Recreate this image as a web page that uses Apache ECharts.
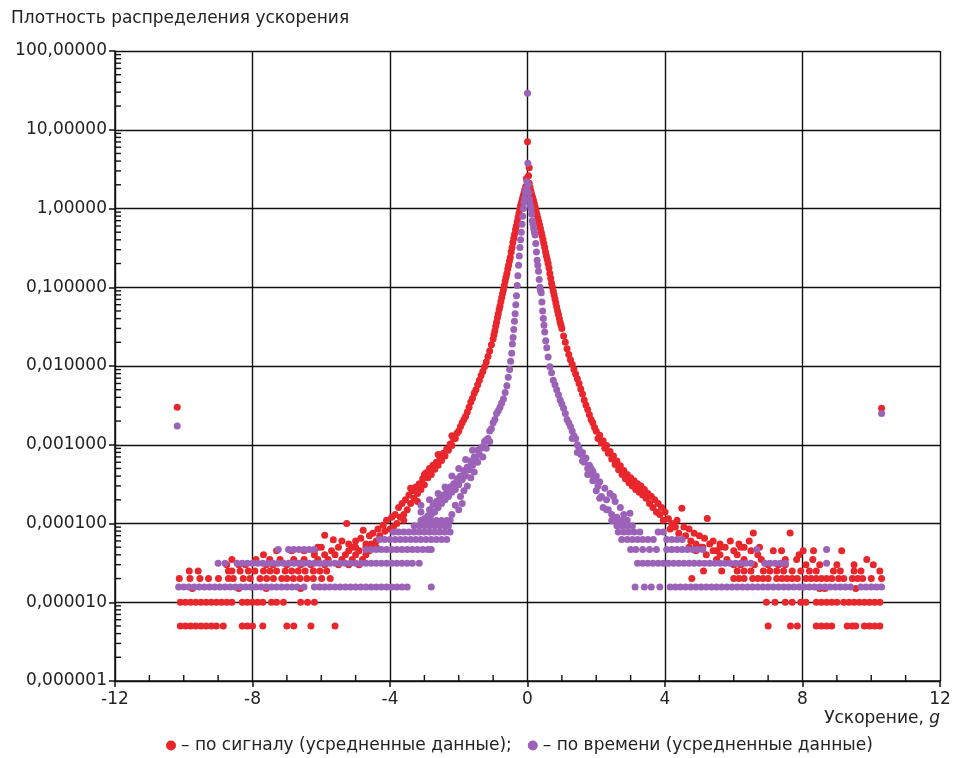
<!DOCTYPE html>
<html><head><meta charset="utf-8">
<script src="https://cdn.jsdelivr.net/npm/echarts@6/dist/echarts.min.js"></script>
<style>html,body{margin:0;padding:0;background:#fff}#c{width:956px;height:758px}</style>
</head><body><div id="c"></div>
<script>
const titleText = 'Плотность распределения ускорения';
const xAxisTitle = 'Ускорение, ';
const seriesNames = ['– по сигналу (усредненные данные);', '– по времени (усредненные данные)'];
const xTicks = [-12, -8, -4, 0, 4, 8, 12];
const yTickLabels = ['0,000001','0,000010','0,000100','0,001000','0,010000','0,100000','1,00000','10,00000','100,00000'];
const xMinorTicks = [-11,-10,-9,-7,-6,-5,-3,-2,-1,1,2,3,5,6,7,9,10,11];
const yMinorTicks = [
 2e-6,3e-6,4e-6,5e-6,6e-6,7e-6,8e-6,9e-6,
 2e-5,3e-5,4e-5,5e-5,6e-5,7e-5,8e-5,9e-5,
 2e-4,3e-4,4e-4,5e-4,6e-4,7e-4,8e-4,9e-4,
 0.002,0.003,0.004,0.005,0.006,0.007,0.008,0.009,
 0.02,0.03,0.04,0.05,0.06,0.07,0.08,0.09,
 0.2,0.3,0.4,0.5,0.6,0.7,0.8,0.9,
 2,3,4,5,6,7,8,9,
 20,30,40,50,60,70,80,90
];

// ---- red: "по сигналу" ----
const redOutliers = [[-10.19,0.0030],[10.3,0.0029]];
const redLeft = [
[-0.03,2.4],[-0.05,1.9],[-0.075,1.75],[-0.1,1.58],[-0.125,1.45],[-0.15,1.32],[-0.175,1.2],[-0.2,1.1],[-0.225,0.98],[-0.25,0.87],[-0.275,0.77],[-0.3,0.68],[-0.325,0.6],[-0.35,0.54],[-0.375,0.47],[-0.4,0.42],[-0.425,0.37],[-0.45,0.32],[-0.475,0.28],[-0.5,0.24],[-0.525,0.215],[-0.55,0.19],[-0.575,0.17],[-0.6,0.15],[-0.625,0.134],[-0.65,0.12],[-0.675,0.105],[-0.7,0.093],[-0.725,0.083],[-0.75,0.074],[-0.775,0.066],[-0.8,0.058],[-0.825,0.052],[-0.85,0.046],[-0.875,0.041],[-0.9,0.036],[-0.925,0.032],[-0.95,0.028],[-0.975,0.025],[-1.0,0.022],[-1.05,0.0186],[-1.1,0.0155],[-1.15,0.0132],[-1.2,0.0112],[-1.25,0.0098],[-1.3,0.0085],[-1.35,0.0076],[-1.4,0.0066],[-1.45,0.0058],[-1.5,0.005],[-1.55,0.0045],[-1.6,0.0039],[-1.65,0.0035],[-1.7,0.003],[-1.75,0.0026],[-1.8,0.0023],[-1.85,0.0021],[-1.9,0.0019],[-1.95,0.0017],[-2.0,0.0015],
[-2.05,0.0014],[-2.1,0.0012],[-2.15,0.00118],[-2.2,0.00098],[-2.25,0.00102],[-2.3,0.00085],[-2.35,0.00088],[-2.4,0.00072],[-2.45,0.00078],[-2.5,0.00063],[-2.55,0.0007],[-2.6,0.00055],[-2.65,0.0006],[-2.7,0.00049],[-2.75,0.00055],[-2.8,0.00042],[-2.85,0.0005],[-2.9,0.00038],[-2.95,0.00044],[-3.0,0.00031],[-3.05,0.00037],[-3.1,0.00027],[-3.15,0.00032],[-3.2,0.00024],[-3.25,0.00029],[-3.3,0.00021],[-3.35,0.00026],[-3.4,0.00018],[-3.45,0.00023],[-3.5,0.00015],[-3.55,0.0002],[-3.6,0.00013],[-3.65,0.00018],[-3.7,0.00012],[-3.75,0.00016],[-3.8,0.0001],[-3.85,0.00013],[-3.9,0.00009],[-3.95,0.00012],[-4.0,0.000085],
[-2.2,0.0013],[-2.6,0.00075],[-3.0,0.00042],[-3.4,0.00028],[-3.2,0.00019],[-3.6,0.00011],
[-4.1,0.00011],[-4.15,0.00008],[-4.2,0.000095],[-4.3,0.00007],[-4.35,0.000085],[-4.4,0.00006],[-4.5,0.000075],[-4.55,0.000055],[-4.6,0.00007],[-4.7,0.000055],[-4.78,0.000082],[-4.85,0.000065],[-5.0,0.00006],[-5.1,0.00005],[-5.2,0.000055],[-5.26,0.0001],[-5.4,0.00006],[-5.65,0.000062],[-5.9,0.000071],[-6.1,0.00005]
];
const redRight = [
[0,7.05],[0.05,3.3],[0.03,2.6],[0.05,2.1],[0.075,1.85],[0.1,1.66],[0.125,1.5],[0.15,1.38],[0.175,1.26],[0.2,1.15],[0.225,1.04],[0.25,0.93],[0.275,0.84],[0.3,0.76],[0.325,0.69],[0.35,0.62],[0.375,0.56],[0.4,0.5],[0.425,0.45],[0.45,0.4],[0.475,0.36],[0.5,0.32],[0.525,0.28],[0.55,0.25],[0.575,0.225],[0.6,0.2],[0.625,0.175],[0.65,0.15],[0.675,0.13],[0.7,0.112],[0.725,0.1],[0.75,0.089],[0.775,0.08],[0.8,0.071],[0.825,0.063],[0.85,0.056],[0.875,0.05],[0.9,0.045],[0.925,0.04],[0.95,0.036],[0.975,0.033],[1.0,0.03],[1.05,0.024],[1.1,0.02],[1.15,0.0166],[1.2,0.014],[1.25,0.012],[1.3,0.0105],[1.35,0.0091],[1.4,0.0079],[1.45,0.0069],[1.5,0.006],[1.55,0.0051],[1.6,0.0044],[1.65,0.0037],[1.7,0.0032],[1.75,0.0028],[1.8,0.0024],[1.85,0.0021],[1.9,0.0019],[1.95,0.00166],[2.0,0.00148],
[2.05,0.0012],[2.1,0.00132],[2.15,0.00105],[2.2,0.00112],[2.25,0.0009],[2.3,0.00098],[2.35,0.00078],[2.4,0.00082],[2.45,0.00066],[2.5,0.00072],[2.55,0.00056],[2.6,0.00062],[2.65,0.00048],[2.7,0.00054],[2.75,0.00042],[2.8,0.00047],[2.85,0.00037],[2.9,0.00042],[2.95,0.00033],[3.0,0.00038],[3.05,0.0003],[3.1,0.00035],[3.15,0.00027],[3.2,0.00032],[3.25,0.00025],[3.3,0.0003],[3.35,0.00023],[3.4,0.00027],[3.45,0.00021],[3.5,0.00024],[3.55,0.00018],[3.6,0.00022],[3.65,0.00016],[3.7,0.0002],[3.75,0.00014],[3.8,0.00018],[3.85,0.00013],[3.9,0.00016],[3.95,0.00011],[4.0,0.00014],
[4.1,0.000115],[4.15,0.000085],[4.2,0.0001],[4.3,0.00009],[4.35,0.00011],[4.4,0.000075],[4.49,0.000156],[4.55,0.00009],[4.6,0.00007],[4.7,0.000085],[4.75,0.00006],[4.85,0.000075],[4.9,0.000055],[5.0,0.00007],[5.05,0.00005],[5.15,0.000065],[5.23,0.000116],[5.3,0.000055],[5.4,0.00006],[5.5,0.000045],[5.6,0.000055],[5.75,0.00005],[5.9,0.00006],[6.0,0.000045],[6.15,0.000055],[6.3,0.00005],[6.45,0.00006],[6.57,0.000076],[6.75,0.00005],[7.64,0.000076]
];
// quantized tail levels: [density, x positions]
const redRows = [
[5e-6, [-10.1,-9.95,-9.8,-9.65,-9.5,-9.35,-9.2,-9.05,-8.85,-8.3,-8.15,-8.0,-7.7,-7.0,-6.8,-6.3,-5.6, 7.0,7.65,7.85,8.4,8.55,8.7,8.85,9.3,9.45,9.55,9.8,9.95,10.1,10.25]],
[1e-5, [-10.1,-9.95,-9.8,-9.65,-9.5,-9.35,-9.2,-9.05,-8.9,-8.75,-8.6,-8.3,-8.15,-8.0,-7.85,-7.7,-7.45,-7.3,-7.1,-6.6,-6.4,-6.2, 6.95,7.2,7.5,7.7,7.95,8.1,8.4,8.55,8.7,8.85,9.0,9.2,9.35,9.5,9.65,9.8,9.95,10.1,10.25]],
[1.5e-5, [-9.75,-8.4,-7.6,-6.6, 8.5,8.65,9.55]],
[2e-5, [-10.13,-9.82,-9.53,-9.28,-8.99,-8.7,-8.56,-8.27,-8.07,-7.78,-7.59,-7.39,-7.15,-7.0,-6.81,-6.62,-6.42,-6.23,-5.99,-5.74, 4.78,6.0,6.15,6.3,6.55,6.7,6.85,7.0,7.25,7.4,7.55,7.7,7.85,8.1,8.25,8.4,8.55,8.7,8.85,9.05,9.2,9.45,9.6,9.75,10.0,10.3]],
[2.5e-5, [-9.84,-9.58,-8.7,-8.6,-8.36,-8.12,-7.93,-7.68,-7.49,-7.3,-7.05,-6.86,-6.67,-6.47,-6.23,-6.04,-5.84, 5.12,5.65,6.1,6.3,6.5,6.86,7.05,7.25,7.45,7.7,7.95,8.2,8.4,8.9,9.1,9.5,9.7,10.25]],
[3e-5, [-8.75,-8.4,-8.2,-7.6,-7.4,-7.0,-6.6,-6.3,-5.9,-5.5,-5.2,-4.9, 6.0,6.2,6.6,7.0,7.3,7.5,8.1,8.5,9.0,9.5,10.06]],
[3.5e-5, [-8.6,-7.9,-7.5,-7.2,-6.8,-6.5,-6.1,-5.8,-5.4,-5.1,-4.8, 5.5,5.8,6.3,6.8,7.5,7.83,8.3,9.87]],
[4e-5, [-7.68,-6.2,-5.9,-5.6,-5.3,-5.0,-4.7, 5.2,5.6,6.1,6.7,7.9]],
[4.5e-5, [-7.3,-6.86,-6.5,-6.2,-5.7,-5.2,-4.9,-4.6, 4.9,5.4,6.5,7.15,7.39,8.02,8.32,9.14]],
[5e-5, [-6.0,-5.5,-5.0,-4.7,-4.4, 4.7,5.1,5.6,6.2]]
];

// ---- purple: "по времени" ----
const purpleOutliers = [[-10.19,0.00173],[10.3,0.0025]];
const purpleLeft = [
[0,29],[0.01,3.75],[-0.02,2.2],[-0.04,1.8],[-0.06,1.6],[-0.08,1.35],[-0.1,1.2],[-0.12,1.0],[-0.14,0.8],[-0.16,0.63],[-0.18,0.5],[-0.2,0.4],[-0.22,0.32],[-0.24,0.25],[-0.26,0.19],[-0.28,0.14],[-0.3,0.105],[-0.32,0.078],[-0.34,0.06],[-0.36,0.046],[-0.38,0.037],[-0.4,0.029],[-0.42,0.023],[-0.44,0.019],[-0.46,0.0145],[-0.49,0.0115],[-0.52,0.009],[-0.56,0.0072],[-0.6,0.0056],[-0.65,0.0046],[-0.7,0.0038],[-0.75,0.0034],[-0.8,0.003],[-0.85,0.0027],[-0.9,0.0025],[-0.95,0.0021],
[-1.0,0.0019],[-1.05,0.0016],[-1.1,0.0015],[-1.15,0.0012],[-1.2,0.00115],[-1.25,0.0011],[-1.3,0.00095],[-1.35,0.0009],[-1.4,0.00075],[-1.45,0.00085],[-1.5,0.00065],[-1.55,0.0007],[-1.6,0.00055],[-1.65,0.00062],[-1.7,0.00048],[-1.75,0.00052],[-1.8,0.0004],[-1.85,0.00047],[-1.9,0.00036],[-1.95,0.0004],[-2.0,0.00031],[-2.05,0.00037],[-2.1,0.00027],[-2.15,0.00032],[-2.2,0.00025],[-2.25,0.00029],[-2.3,0.00022],[-2.35,0.00026],[-2.4,0.0002],[-2.45,0.00023],[-2.5,0.00018],[-2.55,0.00021],[-2.6,0.00016],[-2.65,0.00019],[-2.7,0.00014],[-2.75,0.00017],[-2.8,0.00013],[-2.85,0.00015],[-2.9,0.000125],[-3.0,0.000115],[-3.1,0.00014],
[-1.1,0.0011],[-1.2,0.0009],[-1.3,0.0007],[-1.45,0.0006],[-1.55,0.00045],[-1.65,0.00038],[-1.75,0.0003],[-1.85,0.00026],[-1.9,0.00018],[-1.95,0.00022],[-2.0,0.00015],[-2.1,0.00017],[-2.2,0.00013],[-1.6,0.00085],[-1.8,0.00065],[-2.0,0.0005],[-2.2,0.0004],[-2.4,0.00029],[-2.6,0.00024],[-2.85,0.0002],[-3.1,0.00017]
];
const purpleRight = [
[0.02,2.0],[0.04,1.6],[0.06,1.3],[0.08,1.1],[0.1,1.0],[0.12,0.85],[0.14,0.7],[0.16,0.63],[0.18,0.55],[0.2,0.5],[0.22,0.46],[0.24,0.36],[0.26,0.28],[0.28,0.22],[0.3,0.19],[0.32,0.16],[0.34,0.125],[0.36,0.1],[0.38,0.09],[0.4,0.085],[0.42,0.065],[0.44,0.05],[0.46,0.04],[0.48,0.033],[0.5,0.027],[0.53,0.021],[0.56,0.017],[0.6,0.013],[0.65,0.0098],[0.7,0.0082],[0.75,0.0066],[0.8,0.0058],[0.85,0.005],[0.9,0.0043],[0.95,0.0037],[1.0,0.0033],[1.05,0.0029],[1.1,0.0025],[1.15,0.0021],[1.2,0.0019],[1.25,0.0017],[1.3,0.0015],[1.35,0.0013],[1.4,0.0012],[1.45,0.001],[1.5,0.0009],
[1.55,0.00075],[1.6,0.0008],[1.65,0.0006],[1.7,0.00068],[1.75,0.0005],[1.8,0.00055],[1.85,0.00042],[1.9,0.00046],[1.95,0.00036],[2.0,0.0004],[2.05,0.0003],[2.1,0.00034],[2.15,0.00022],[2.2,0.00016],[2.25,0.00028],[2.3,0.0002],[2.35,0.00015],[2.4,0.00024],[2.45,0.00013],[2.5,0.00011],[2.55,0.00019],[2.6,0.00012],[2.65,0.0001],[2.7,0.00016],[2.75,0.000095],[2.8,0.00013],[2.9,0.00011],[2.98,0.000135],
[1.3,0.0012],[1.45,0.0008],[1.6,0.00062],[1.75,0.00042],[1.9,0.00035],[2.0,0.00026],[2.1,0.00021],[2.3,0.00015],[2.5,0.00022],[1.85,0.0005]
];
const purpleRows = [
[1.5625e-5, [-10.15,-10.0,-9.85,-9.7,-9.55,-9.4,-9.25,-9.1,-8.95,-8.8,-8.65,-8.5,-8.35,-8.2,-8.05,-7.9,-7.75,-7.6,-7.45,-7.3,-7.15,-7.0,-6.85,-6.7,-6.5,-6.2,-6.05,-5.9,-5.75,-5.6,-5.45,-5.3,-5.15,-5.0,-4.85,-4.7,-4.55,-4.4,-4.25,-4.1,-3.95,-3.8,-3.65,-3.5,-2.8,
  3.13,3.4,3.6,3.85,4.15,4.3,4.45,4.6,4.75,4.9,5.05,5.2,5.35,5.5,5.65,5.8,5.95,6.1,6.25,6.4,6.55,6.7,6.85,7.0,7.15,7.3,7.45,7.6,7.75,7.9,8.05,8.2,8.35,8.5,8.65,8.8,8.95,9.1,9.25,9.4,9.7,9.85,10.0,10.15,10.3]],
[3.125e-5, [-9.0,-8.8,-8.45,-8.3,-8.15,-8.0,-7.85,-7.7,-7.55,-7.4,-7.25,-7.1,-6.95,-6.8,-6.65,-6.5,-6.35,-6.2,-6.05,-5.9,-5.75,-5.6,-5.45,-5.3,-5.15,-5.0,-4.85,-4.7,-4.55,-4.4,-4.25,-4.1,-3.95,-3.8,-3.65,-3.5,-3.35,-3.15,
  3.2,3.35,3.5,3.65,3.8,3.95,4.1,4.25,4.4,4.55,4.7,4.85,5.0,5.15,5.3,5.45,5.6,5.75,5.9,6.05,6.2,6.35,6.5,6.9,7.05,7.2,7.35,7.5,8.7]],
[4.6875e-5, [-7.25,-6.95,-6.8,-6.65,-6.5,-6.35,-6.2,-4.7,-4.55,-4.4,-4.25,-4.1,-3.95,-3.8,-3.65,-3.5,-3.35,-3.2,-3.05,-2.9,-2.8,
  3.0,3.15,3.35,3.55,3.75,4.05,4.2,4.35,4.5,4.65,4.8,4.95,5.1,6.67,8.7]],
[6.25e-5, [-4.3,-4.15,-4.0,-3.85,-3.7,-3.55,-3.4,-3.25,-3.1,-2.95,-2.8,-2.65,-2.5,-2.35, 2.74,2.9,3.05,3.2,3.35,3.5,3.66,4.05,4.2,4.35,4.5]],
[7.8125e-5, [-3.9,-3.75,-3.6,-3.45,-3.3,-3.15,-3.0,-2.85,-2.7,-2.55,-2.4,-2.25, 2.64,2.8,2.95,3.1,3.27,3.8,3.95]],
[9.375e-5, [-3.3,-3.15,-3.0,-2.85,-2.7,-2.55,-2.4,-2.3, 2.6,2.75,2.9,3.05]],
[1.09375e-4, [-3.1,-2.95,-2.8,-2.65,-2.5,-2.35,-2.25, 2.45,2.6,2.75]]
];

function rowsToPoints(rows) {
  const out = [];
  rows.forEach(([level, xs]) => xs.forEach(x => out.push([x, level])));
  return out;
}
const redData = [].concat(redOutliers, redLeft, redRight, rowsToPoints(redRows));
const purpleData = [].concat(purpleOutliers, purpleLeft, purpleRight, rowsToPoints(purpleRows));

const FONT = 'DejaVu Sans';
const TXT = '#222';
const RED = '#e8262b';
const PURPLE = '#9c62b8';
const LINE = '#111';
const X_MIN = -12, X_MAX = 12;
const Y_MIN = 1e-6, Y_MAX = 100;

const chart = echarts.init(document.getElementById('c'), null, {renderer: 'canvas'});
chart.setOption({
  animation: false,
  backgroundColor: '#fff',
  title: {
    text: titleText, left: 6, top: 5,
    textStyle: {fontFamily: FONT, fontSize: 17, fontWeight: 'normal', color: TXT}
  },
  legend: {
    data: seriesNames, left: 161, top: 732,
    icon: 'circle', itemWidth: 10, itemHeight: 10, itemGap: 16,
    textStyle: {fontFamily: FONT, fontSize: 17, color: TXT}
  },
  grid: {left: 115, right: 16, top: 51, bottom: 77, containLabel: false},
  xAxis: {
    type: 'value', min: X_MIN, max: X_MAX, interval: 4,
    axisLine: {show: true, onZero: false, lineStyle: {color: LINE, width: 1.5}},
    axisTick: {show: true, inside: false, length: 6, lineStyle: {color: LINE, width: 1.5}},
    axisLabel: {fontFamily: FONT, fontSize: 17, color: TXT, margin: 10},
    splitLine: {show: true, lineStyle: {color: LINE, width: 1.4}}
  },
  yAxis: {
    type: 'log', logBase: 10, min: Y_MIN, max: Y_MAX, splitNumber: 8,
    axisLine: {show: true, onZero: false, lineStyle: {color: LINE, width: 1.5}},
    axisTick: {show: true, inside: false, length: 6, lineStyle: {color: LINE, width: 1.5}},
    axisLabel: {fontFamily: FONT, fontSize: 17, color: TXT, margin: 8,
      formatter: v => yTickLabels[Math.round(Math.log10(v)) + 6]},
    splitLine: {show: true, lineStyle: {color: LINE, width: 1.4}}
  },
  graphic: [{
    type: 'text', right: 16, top: 710,
    style: {
      text: '{a|' + xAxisTitle + '}{b|g}',
      rich: {
        a: {fontFamily: FONT, fontSize: 17, fill: TXT, color: TXT},
        b: {fontFamily: FONT, fontSize: 17, fontStyle: 'italic', fill: TXT, color: TXT}
      }
    }
  }],
  series: [{
    type: 'custom', clip: false, z: 4,
    data: yMinorTicks.map(v => [X_MIN, v]),
    renderItem: (params, api) => {
      const p = api.coord([X_MIN, api.value(1)]);
      return {type: 'line', shape: {x1: p[0], y1: p[1], x2: p[0] + 6, y2: p[1]},
        style: {stroke: LINE, lineWidth: 1.4}};
    }
  }, {
    type: 'custom', clip: false, z: 4,
    data: xMinorTicks.map(x => [x, Y_MIN]),
    renderItem: (params, api) => {
      const p = api.coord([api.value(0), Y_MIN]);
      return {type: 'line', shape: {x1: p[0], y1: p[1], x2: p[0], y2: p[1] - 6},
        style: {stroke: LINE, lineWidth: 1.4}};
    }
  }, {
    name: seriesNames[0], type: 'scatter',
    symbol: 'circle', symbolSize: 7, itemStyle: {color: RED, opacity: 1},
    data: redData, z: 2
  }, {
    name: seriesNames[1], type: 'scatter',
    symbol: 'circle', symbolSize: 7, itemStyle: {color: PURPLE, opacity: 1},
    data: purpleData, z: 3
  }]
});
</script></body></html>
